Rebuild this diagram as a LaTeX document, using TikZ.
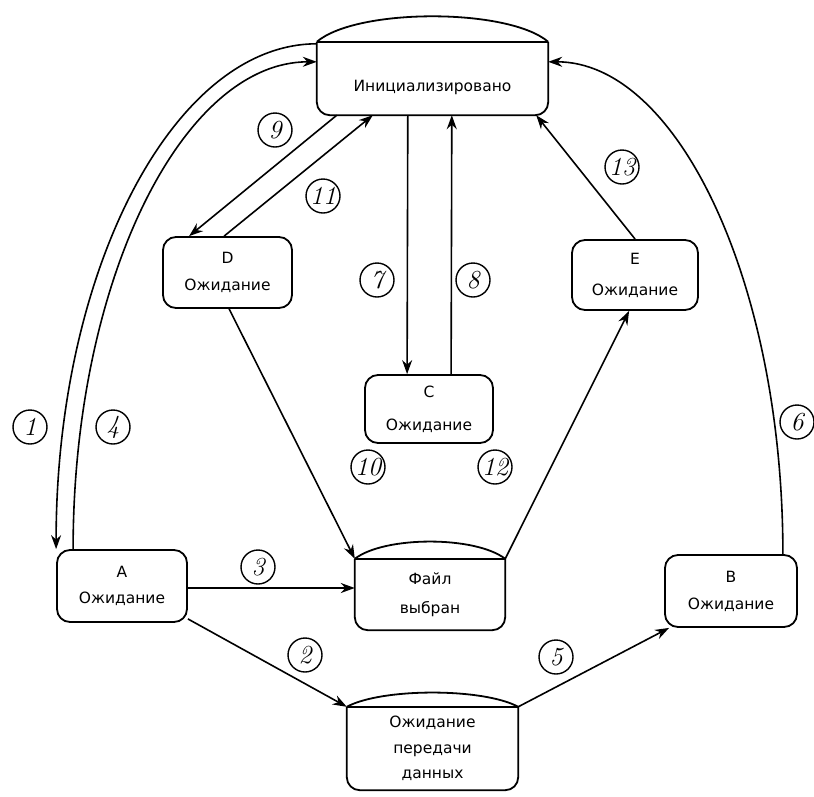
\documentclass[tikz,border=0pt]{standalone}
\usepackage{fontspec}
\newfontfamily\lbl{DejaVu Sans}
\usetikzlibrary{arrows.meta,calc}
\tikzset{
  stbox/.style={draw, line width=1.8pt, rounded corners=13pt, inner sep=0pt, align=center,
    font=\lbl\fontsize{15.5}{27}\selectfont},
  lidbox/.style={draw=none, inner sep=0pt},
  txt/.style={inner sep=0pt, align=center, font=\lbl\fontsize{15.5}{27}\selectfont},
  num/.style={circle, draw, line width=1.4pt, minimum size=34pt, inner sep=0pt,
    font=\itshape\fontsize{26}{26}\selectfont},
  edge/.style={line width=1.8pt},
  arr/.style={line width=1.6pt, -{Stealth[length=14pt,width=10pt]}}
}
\begin{document}
\begin{tikzpicture}[x=1pt,y=-1pt]
\useasboundingbox (0,0) rectangle (814,796);
% lid nodes
\node[lidbox, minimum width=231pt, minimum height=73pt] (init) at (432.5,78.5) {};
\draw[edge] (init.north west) -- (init.north east);
\draw[edge, rounded corners=13pt] (init.north west) -- (init.south west) -- (init.south east) -- (init.north east);
\draw[edge] (init.north west) .. controls +(40,-34) and +(-40,-34) .. (init.north east);
\node[txt] (initT) at (432.5,87) {Инициализировано};

\node[lidbox, minimum width=150pt, minimum height=71pt] (F) at (430,594.5) {};
\draw[edge] (F.north west) -- (F.north east);
\draw[edge, rounded corners=13pt] (F.north west) -- (F.south west) -- (F.south east) -- (F.north east);
\draw[edge] (F.north west) .. controls +(30,-23) and +(-30,-23) .. (F.north east);
\node[txt, font=\lbl\fontsize{15.5}{29}\selectfont] (FT) at (F.center) {Файл\\выбран};

\node[lidbox, minimum width=171pt, minimum height=83pt] (W) at (432.5,748.5) {};
\draw[edge] (W.north west) -- (W.north east);
\draw[edge, rounded corners=13pt] (W.north west) -- (W.south west) -- (W.south east) -- (W.north east);
\draw[edge] (W.north west) .. controls +(35,-19) and +(-35,-19) .. (W.north east);
\node[txt, font=\lbl\fontsize{15.5}{25.5}\selectfont] (WT) at (W.center) {Ожидание\\передачи\\данных};

% plain state boxes
\node[stbox, minimum width=129pt, minimum height=71pt] (D) at (227.5,272.5) {D\\Ожидание};
\node[stbox, minimum width=128pt, minimum height=68pt, font=\lbl\fontsize{15.5}{33}\selectfont] (C) at (429,409) {C\\Ожидание};
\node[stbox, minimum width=126pt, minimum height=70pt, font=\lbl\fontsize{15.5}{31}\selectfont] (E) at (635,275) {E\\Ожидание};
\node[stbox, minimum width=130pt, minimum height=72pt, font=\lbl\fontsize{15.5}{26}\selectfont] (A) at (122,586) {A\\Ожидание};
\node[stbox, minimum width=132pt, minimum height=72pt] (B) at (731,591) {B\\Ожидание};

% connectors
\draw[arr] ($(init.north west)+(0,2)$) .. controls +(-143,0) and +(0,-279) .. (A.north west);
\draw[arr] ($(A.north west)+(17,0)$) .. controls +(0,-269) and +(-134,0) .. ($(init.north west)+(0,20)$);
\draw[arr] ($(B.north east)+(-15,0)$) .. controls +(0,-272) and +(129,0) .. ($(init.north east)+(0,20)$);
\draw[arr] ($(init.south west)+(20,0)$) -- ($(D.north west)+(27,0)$);
\draw[arr] ($(D.north west)+(62,0)$) -- ($(init.south west)+(56,0)$);
\draw[arr] ($(init.south west)+(91,0)$) -- ($(C.north west)+(43,0)$);
\draw[arr] ($(C.north west)+(87,0)$) -- ($(init.south west)+(135,0)$);
\draw[arr] ($(E.north west)+(64,0)$) -- ($(init.south east)+(-12,0)$);
\draw[arr] ($(D.south west)+(67,0)$) -- (F.north west);
\draw[arr] (F.north east) -- ($(E.south west)+(58,0)$);
\draw[arr] ($(A.east)+(0,2)$) -- ($(F.west)+(0,-6.5)$);
\draw[arr] ($(A.south east)+(0,-4)$) -- (W.north west);
\draw[arr] (W.north east) -- ($(B.south west)+(5,0)$);

% number labels
\node[num] (n1) at (30,427) {1};
\node[num] (n4) at (113,427) {4};
\node[num] (n6) at (797,422) {6};
\node[num] (n9) at (275,130) {9};
\node[num] (n11) at (323,196) {11};
\node[num] (n13) at (622,167) {13};
\node[num] (n7) at (377,280) {7};
\node[num] (n8) at (473,280) {8};
\node[num] (n10) at (368,467) {10};
\node[num] (n12) at (495,467) {12};
\node[num] (n3) at (258,567) {3};
\node[num] (n2) at (305,655) {2};
\node[num] (n5) at (556,657) {5};
\end{tikzpicture}
\end{document}
